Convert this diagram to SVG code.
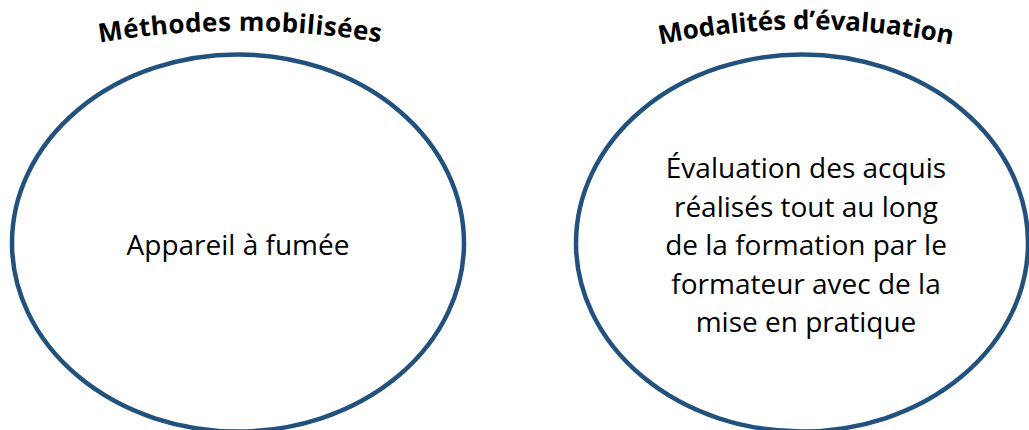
<svg xmlns="http://www.w3.org/2000/svg" xmlns:xlink="http://www.w3.org/1999/xlink" width="1029" height="430" viewBox="0 0 1029 430">
  <style>
    .oval { fill: #ffffff; stroke: #22517D; stroke-width: 4.5; }
    .body { font-family: "Open Sans", "Noto Sans", "Liberation Sans", sans-serif; font-size: 28px; fill: #000000; text-anchor: middle; }
    .title { font-family: "Open Sans", "Noto Sans", "Liberation Sans", sans-serif; font-size: 26px; font-weight: bold; fill: #000000; text-anchor: middle; }
  </style>
  <defs>
    <path id="arcLeft" d="M 97 43 A 850 850 0 0 1 383 43" fill="none"/>
    <path id="arcRight" d="M 658 45 A 700 700 0 0 1 954 45" fill="none"/>
  </defs>
  <rect x="0" y="0" width="1029" height="430" fill="#ffffff"/>

  <g id="node-methodes">
    <ellipse class="oval" cx="238" cy="243" rx="226" ry="188.5"/>
    <text class="title"><textPath xlink:href="#arcLeft" href="#arcLeft" startOffset="50%" textLength="282" lengthAdjust="spacing">Méthodes mobilisées</textPath></text>
    <text class="body" x="238" y="255">Appareil à fumée</text>
  </g>

  <g id="node-modalites">
    <ellipse class="oval" cx="802" cy="243" rx="226" ry="188.5"/>
    <text class="title"><textPath xlink:href="#arcRight" href="#arcRight" startOffset="50%" textLength="294" lengthAdjust="spacing">Modalités d’évaluation</textPath></text>
    <text class="body" x="806" y="178">Évaluation des acquis</text>
    <text class="body" x="806" y="216.5">réalisés tout au long</text>
    <text class="body" x="806" y="255">de la formation par le</text>
    <text class="body" x="806" y="293.5">formateur avec de la</text>
    <text class="body" x="806" y="332">mise en pratique</text>
  </g>

  <g id="connectors"></g>
</svg>
